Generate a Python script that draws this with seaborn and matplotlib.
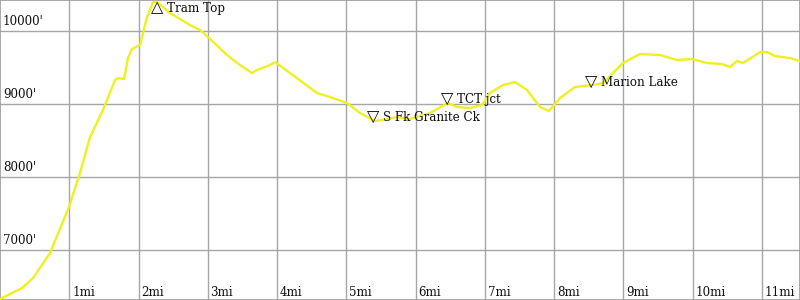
import matplotlib
matplotlib.use("Agg")
import matplotlib.pyplot as plt
import matplotlib.transforms as mtransforms
import seaborn as sns
import pandas as pd

# Elevation profile (miles, feet)
miles = [0.000, 0.318, 0.477, 0.722, 0.996, 1.155, 1.300, 1.487, 1.661, 1.704,
         1.791, 1.848, 1.906, 2.022, 2.065, 2.123, 2.209, 2.267, 2.455, 2.744,
         2.888, 3.004, 3.278, 3.466, 3.639, 3.711, 3.899, 3.971, 4.188, 4.578,
         4.765, 5.011, 5.199, 5.415, 5.588, 5.733, 5.921, 6.209, 6.469, 6.599,
         6.787, 6.960, 7.076, 7.264, 7.437, 7.610, 7.798, 7.928, 8.087, 8.303,
         8.549, 8.708, 8.996, 9.242, 9.531, 9.776, 9.993, 10.209, 10.426, 10.542,
         10.643, 10.729, 10.975, 11.076, 11.191, 11.408, 11.552]
elev = [6329, 6479, 6616, 6959, 7589, 8055, 8548, 8918, 9329, 9356,
        9342, 9630, 9753, 9808, 9973, 10192, 10397, 10397, 10247, 10082,
        10014, 9918, 9671, 9534, 9425, 9466, 9534, 9575, 9425, 9151,
        9096, 9014, 8877, 8767, 8795, 8822, 8795, 8877, 9014, 8959,
        8945, 8986, 9151, 9260, 9301, 9192, 8959, 8904, 9082, 9233,
        9260, 9288, 9562, 9685, 9671, 9603, 9616, 9562, 9548, 9507,
        9589, 9562, 9712, 9712, 9658, 9630, 9589]

# Waypoints
wp_names = ["Tram Top", "S Fk Granite Ck", "TCT jct", "Marion Lake"]
wp_miles = [2.267, 5.39, 6.455, 8.534]
wp_elev = [10411, 8767, 9014, 9247]
wp_up = [True, False, False, False]

ytick_vals = [7000, 8000, 9000, 10000]
ytick_labels = ["7000'", "8000'", "9000'", "10000'"]
xtick_vals = list(range(1, 12))
xtick_labels = [f"{m}mi" for m in xtick_vals]

sns.set_style("white")
plt.rcParams["font.family"] = ["DejaVu Serif", "DejaVu Sans"]

fig = plt.figure(figsize=(8, 3), dpi=100)
ax = fig.add_axes([0, 0, 1, 1])

grid_c = "#a6a6a6"
for xv in xtick_vals:
    ax.axvline(xv, color=grid_c, lw=1.0, zorder=0)
for yv in ytick_vals:
    ax.axhline(yv, color=grid_c, lw=1.0, zorder=0)

df = pd.DataFrame({"mi": miles, "ft": elev})
sns.lineplot(data=df, x="mi", y="ft", ax=ax, color="#f0f020", lw=1.7,
             estimator=None, sort=False, zorder=3)

ax.set_xlim(0, 800 / 69.25)
ax.set_ylim(6315, 10425)
ax.set_xticks([])
ax.set_yticks([])
ax.set_xlabel("")
ax.set_ylabel("")
for s in ax.spines.values():
    s.set_color("#999999")
    s.set_linewidth(1.2)

fs = 8.6
ytr = mtransforms.blended_transform_factory(ax.transAxes, ax.transData)
for yv, lab in zip(ytick_vals, ytick_labels):
    ax.annotate(lab, xy=(0, yv), xycoords=ytr, xytext=(2, 2),
                textcoords="offset points", ha="left", va="bottom",
                fontsize=fs, color="#111111")
xtr = mtransforms.blended_transform_factory(ax.transData, ax.transAxes)
for xv, lab in zip(xtick_vals, xtick_labels):
    ax.annotate(lab, xy=(xv, 0), xycoords=xtr, xytext=(2, 3),
                textcoords="offset points", ha="left", va="baseline",
                fontsize=fs, color="#111111")

for name, m, e, up in zip(wp_names, wp_miles, wp_elev, wp_up):
    sym = "\u25B3" if up else "\u25BD"
    dy = -8 if up else 0
    ax.annotate(sym, xy=(m, e), xytext=(0, dy), textcoords="offset points",
                ha="center", va="baseline", fontsize=11.5,
                family="DejaVu Sans", color="#111111", zorder=4)
    ax.annotate(name, xy=(m, e), xytext=(7.2, dy), textcoords="offset points",
                ha="left", va="baseline", fontsize=fs, color="#111111",
                zorder=4)

fig.savefig("out.png", dpi=100)
